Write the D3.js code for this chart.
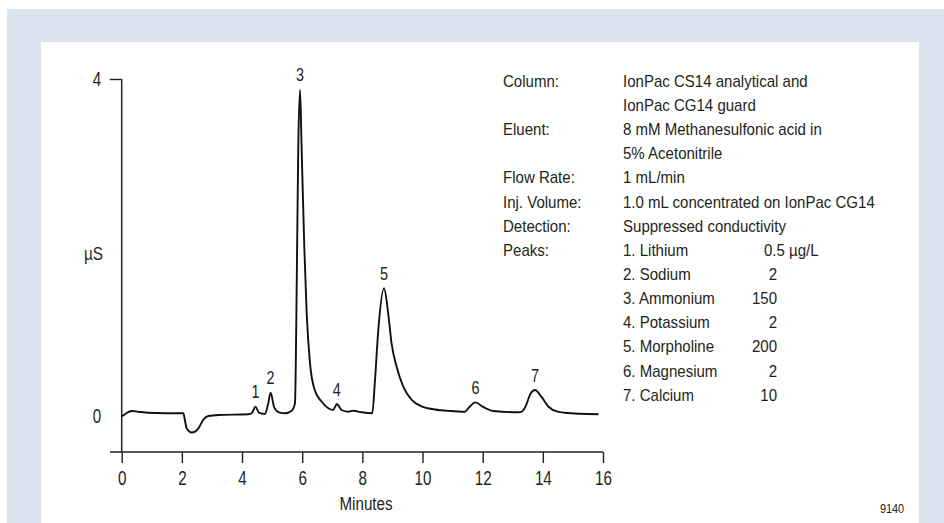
<!DOCTYPE html>
<html><head><meta charset="utf-8">
<script src="https://cdn.jsdelivr.net/npm/d3@7/dist/d3.min.js"></script>
<style>
body{margin:0;background:#fff;}
svg{display:block;}
text{fill:#231f20;font-family:"Liberation Sans",Arial,sans-serif;}
</style></head>
<body><svg id="c" width="944" height="523"></svg>
<script>
// Chromatogram trace: time (min), conductivity (µS)
const traceTime = [0,0.14,0.33,0.55,0.88,1.44,2.05,2.10,2.16,2.33,2.55,2.71,2.88,3.21,4.21,4.32,4.45,4.56,4.76,4.86,4.95,5.07,5.23,5.43,5.65,5.76,5.82,5.87,5.93,5.98,6.07,6.15,6.26,6.42,6.65,6.87,7.03,7.15,7.31,7.53,7.70,7.98,8.33,8.42,8.53,8.72,8.86,8.97,9.14,9.36,9.64,9.97,10.41,10.91,11.41,11.52,11.76,12.00,12.35,13.18,13.30,13.42,13.60,13.74,13.95,14.19,14.49,14.73,15.85];
const traceValue = [0.0,0.036,0.065,0.057,0.045,0.039,0.038,-0.041,-0.14,-0.19,-0.14,-0.041,0.006,0.018,0.026,0.038,0.116,0.045,0.030,0.136,0.282,0.109,0.050,0.038,0.069,0.156,1.618,3.198,3.87,3.198,2.01,1.22,0.63,0.31,0.175,0.097,0.077,0.148,0.077,0.057,0.069,0.050,0.038,0.43,1.025,1.52,1.22,0.87,0.59,0.353,0.196,0.119,0.083,0.065,0.057,0.097,0.168,0.116,0.065,0.050,0.057,0.116,0.275,0.314,0.235,0.116,0.057,0.045,0.026];
// Peak labels
const peakNums = ["1","2","3","4","5","6","7"];
const peakTimes = [4.45,4.95,5.93,7.15,8.72,11.76,13.74];
const peakTops = [0.116,0.282,3.87,0.148,1.52,0.168,0.314];
// Axis ticks
const xTicks = [0,2,4,6,8,10,12,14,16];
const yTicks = [0,4];
// Conditions block
const condLabels = ["Column:","","Eluent:","","Flow Rate:","Inj. Volume:","Detection:","Peaks:"];
const condValues = ["IonPac CS14 analytical and","IonPac CG14 guard","8 mM Methanesulfonic acid in","5% Acetonitrile","1 mL/min","1.0 mL concentrated on IonPac CG14","Suppressed conductivity"];
const peakNames = ["1. Lithium","2. Sodium","3. Ammonium","4. Potassium","5. Morpholine","6. Magnesium","7. Calcium"];
const peakAmounts = ["0.5 µg/L","2","150","2","200","2","10"];

const svg = d3.select("#c");
svg.append("rect").attr("x",7).attr("y",9).attr("width",937).attr("height",514).attr("fill","#dce3ee");
svg.append("rect").attr("x",41).attr("y",42).attr("width",878).attr("height",481).attr("fill","#fff");

const x = d3.scaleLinear().domain([0,16]).range([121.7,603]);
const y = d3.scaleLinear().domain([0,4]).range([416.5,79]);
const axisY = 452;
const ink = "#231f20";

// helper: condensed text placed at (px,py)
function ctext(g, px, py, str, size, sx, anchor){
  return g.append("text").attr("transform",`translate(${px},${py}) scale(${sx},1)`)
    .attr("text-anchor",anchor||"start").style("font-size",size+"px").text(str);
}

// X axis
const gx = svg.append("g").attr("transform",`translate(0,${axisY})`)
  .call(d3.axisBottom(x).tickValues(xTicks).tickSize(11).tickPadding(8).tickFormat(d3.format("d")));
gx.select(".domain").remove();
gx.selectAll(".tick line").attr("stroke",ink).attr("stroke-width",1.4);
gx.selectAll(".tick text").style("font-size","20px").style("font-family","Liberation Sans, Arial, sans-serif")
  .attr("fill",ink).attr("transform","scale(0.76,1)");
gx.append("line").attr("x1",110).attr("x2",x(16)).attr("y1",0).attr("y2",0).attr("stroke",ink).attr("stroke-width",1.5);

// Y axis
const gy = svg.append("g").attr("transform",`translate(${x(0)},0)`)
  .call(d3.axisLeft(y).tickValues(yTicks).tickSize(12).tickFormat(d3.format("d")));
gy.select(".domain").remove();
gy.selectAll(".tick line").attr("stroke",ink).attr("stroke-width",1.4).attr("opacity",d=>d===0?0:1);
gy.selectAll(".tick text").style("font-size","20px").style("font-family","Liberation Sans, Arial, sans-serif")
  .attr("fill",ink).attr("x",0).attr("transform","translate(-20.5,0) scale(0.76,1)");
gy.append("line").attr("x1",0).attr("x2",0).attr("y1",y(4)).attr("y2",axisY).attr("stroke",ink).attr("stroke-width",1.5);

ctext(svg, 93.5, 260, "µS", 18, 0.85, "middle");
ctext(svg, 366, 510, "Minutes", 19, 0.8, "middle");
ctext(svg, 892, 513, "9140", 12.5, 0.87, "middle");

// Trace
const pts = traceTime.map((t,i)=>[t,traceValue[i]]);
svg.append("path").datum(pts)
  .attr("d", d3.line().x(d=>x(d[0])).y(d=>y(d[1])).curve(d3.curveMonotoneX))
  .attr("fill","none").attr("stroke","#111").attr("stroke-width",1.9).attr("stroke-linejoin","round");

// Peak numbers
const pg = svg.append("g");
peakNums.forEach((d,i)=>ctext(pg, x(peakTimes[i]), y(peakTops[i])-8.5, d, 18, 0.8, "middle"));

// Conditions text
const lineH = 24.15, top0 = 86.8;
const tg = svg.append("g");
const fs = 16, sx = 0.94;
condLabels.forEach((s,i)=>{ if(s) ctext(tg, 503, top0+i*lineH, s, fs, sx); });
condValues.forEach((s,i)=>ctext(tg, 623, top0+i*lineH, s, fs, sx));
peakNames.forEach((s,i)=>ctext(tg, 623, top0+(7+i)*lineH, s, fs, sx));
peakAmounts.forEach((s,i)=>{
  if(i===0) ctext(tg, 764, top0+(7+i)*lineH, s, fs, sx);
  else ctext(tg, 777, top0+(7+i)*lineH, s, fs, sx, "end");
});
</script></body></html>
